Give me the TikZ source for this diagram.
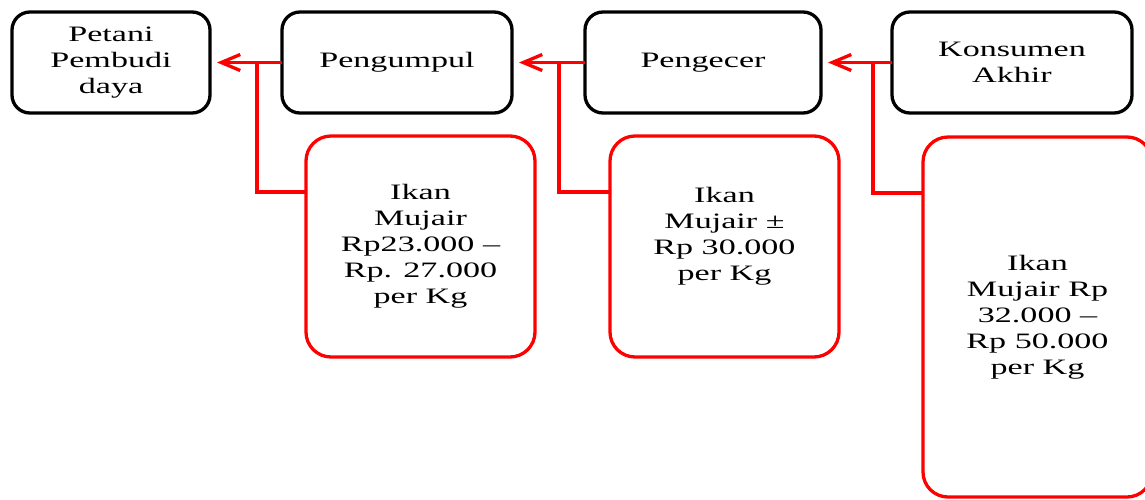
\documentclass[tikz,border=0pt]{standalone}
\usepackage{fontspec}
\setmainfont{Liberation Serif}[FakeStretch=1.55]
\usepackage{tikz}
\usetikzlibrary{positioning,arrows.meta}

\begin{document}
\begin{tikzpicture}[
    actor/.style={rectangle, draw=black, line width=3.3pt, rounded corners=18pt, minimum height=101pt, outer sep=0pt, inner sep=0pt, align=center, font=\fontsize{22}{26}\selectfont},
    price/.style={rectangle, draw=red, line width=3.3pt, rounded corners=25pt, minimum width=229pt, minimum height=#1, outer sep=0pt, inner sep=0pt, align=center, font=\fontsize{22}{26}\selectfont},
    price/.default=221pt,
    link/.style={draw=red, line width=3.3pt},
    arrow/.style={link, -{Straight Barb[length=19pt,width=16pt]}, shorten >=7pt}
]
    \useasboundingbox (0pt,0pt) rectangle (1145pt,-499pt);

    % Actors — left to right
    \node[actor, minimum width=198pt] (petani) at (111pt,-62.5pt) {Petani\\Pembudi\\daya};
    \node[actor, minimum width=230pt, right=72pt of petani] (kumpul)   {Pengumpul};
    \node[actor, minimum width=236pt, right=73pt of kumpul] (ecer)     {Pengecer};
    \node[actor, minimum width=240pt, right=71pt of ecer]   (konsumen) {Konsumen\\Akhir};

    % Price boxes below
    \node[price, below right=23pt and 24pt of kumpul.south west]   (harga1) {Ikan\\Mujair\\Rp23.000 --\\Rp. 27.000\\per Kg};
    \node[price, below right=23pt and 25pt of ecer.south west]     (harga2) {Ikan\\Mujair ±\\Rp 30.000\\per Kg\\\mbox{}};
    \node[price=360pt, below right=24pt and 31pt of konsumen.south west] (harga3) {Ikan\\Mujair Rp\\32.000 --\\Rp 50.000\\per Kg};

    % Junctions on the arrows
    \coordinate[left=25pt of kumpul.west]   (j1);
    \coordinate[left=26pt of ecer.west]     (j2);
    \coordinate[left=19pt of konsumen.west] (j3);

    % Arrows between actors
    \draw[arrow] (kumpul.west)   -- (petani.east);
    \draw[arrow] (ecer.west)     -- (kumpul.east);
    \draw[arrow] (konsumen.west) -- (ecer.east);

    % Price links
    \draw[link] (j1) |- ([yshift=-56pt]harga1.north west);
    \draw[link] (j2) |- ([yshift=-56pt]harga2.north west);
    \draw[link] (j3) |- ([yshift=-56pt]harga3.north west);

\end{tikzpicture}
\end{document}
